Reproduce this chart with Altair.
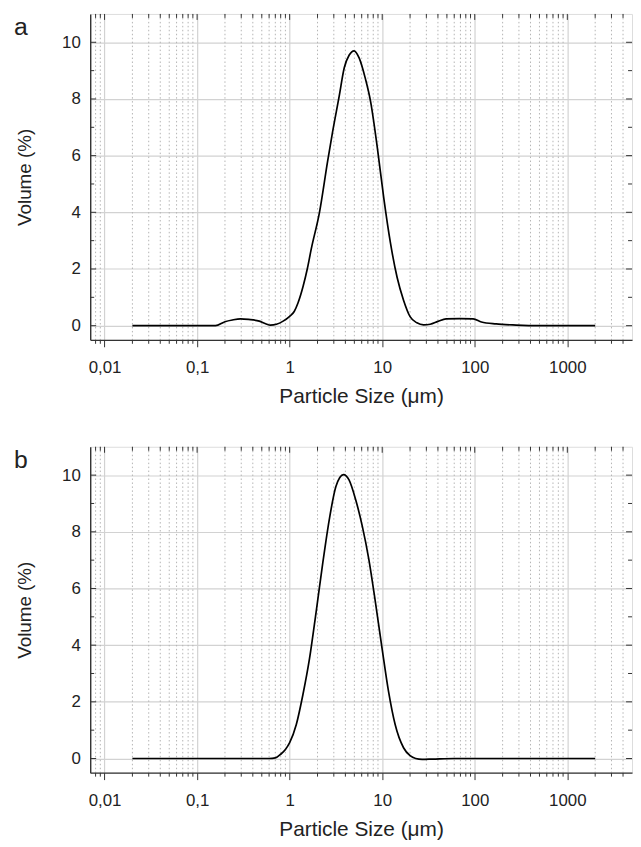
import altair as alt
import pandas as pd

# ---------------- data ----------------
size_a = [0.02, 0.05, 0.1, 0.158, 0.2, 0.24, 0.295, 0.36, 0.47, 0.55, 0.62, 0.72, 0.85,
          1.0, 1.12, 1.23, 1.4, 1.55, 1.71, 2.1, 2.57, 2.91, 3.43, 3.89, 4.4, 4.97, 5.63,
          6.6, 7.5, 8.84, 10.4, 12.3, 14.5, 17.0, 20.0, 23.7, 28.0, 33.0, 40.0, 49.0,
          69.0, 96.0, 118.0, 170.0, 280.0, 500.0, 1000.0, 2000.0]
vol_a = [0.0, 0.0, 0.0, 0.0, 0.14, 0.2, 0.24, 0.22, 0.16, 0.07, 0.02, 0.05, 0.16,
         0.33, 0.5, 0.8, 1.4, 2.0, 2.7, 4.0, 5.8, 6.84, 8.1, 9.1, 9.55, 9.7, 9.45,
         8.7, 7.9, 6.3, 4.5, 2.9, 1.7, 0.9, 0.32, 0.1, 0.03, 0.05, 0.15, 0.24,
         0.25, 0.24, 0.13, 0.06, 0.02, 0.0, 0.0, 0.0]

size_b = [0.02, 0.05, 0.1, 0.3, 0.6, 0.7, 0.8, 0.9, 1.0, 1.18, 1.39, 1.64, 1.93, 2.28,
          2.68, 3.16, 3.82, 4.38, 5.17, 6.09, 7.17, 8.45, 9.97, 11.7, 13.8, 17.0, 20.0,
          23.0, 27.0, 35.0, 60.0, 200.0, 1000.0, 2000.0]
vol_b = [0.0, 0.0, 0.0, 0.0, 0.0, 0.02, 0.15, 0.32, 0.56, 1.2, 2.25, 3.53, 5.16, 6.9,
         8.43, 9.6, 10.02, 9.83, 9.13, 8.2, 7.03, 5.51, 3.88, 2.37, 1.2, 0.38, 0.1,
         0.0, -0.03, -0.02, 0.0, 0.0, 0.0, 0.0]

panel_labels = ["a", "b"]
x_title = "Particle Size (\u03bcm)"
y_title = "Volume (%)"

x_major = [0.01, 0.1, 1, 10, 100, 1000]
x_major_labels = ["0,01", "0,1", "1", "10", "100", "1000"]
x_minor = [0.008, 0.009,
           0.02, 0.03, 0.04, 0.05, 0.06, 0.07, 0.08, 0.09,
           0.2, 0.3, 0.4, 0.5, 0.6, 0.7, 0.8, 0.9,
           2, 3, 4, 5, 6, 7, 8, 9,
           20, 30, 40, 50, 60, 70, 80, 90,
           200, 300, 400, 500, 600, 700, 800, 900,
           2000, 3000, 4000]
y_major = [0, 2, 4, 6, 8, 10]
y_minor = [1, 3, 5, 7, 9]

# ---------------- styling ----------------
W, H = 547, 329
FONT = "Liberation Sans"
TXT = "#222222"
AX = "#333333"
GRID = "#d2d2d2"
MINOR = "#b4b4b4"

label_expr = "{" + ", ".join(f"'{v}': '{l}'" for v, l in zip(x_major, x_major_labels)) + "}[toString(datum.value)]"

xs = alt.Scale(type="log", domain=[0.007, 5000], nice=False)
ys = alt.Scale(domain=[-0.5, 11], nice=False, zero=False)

X_AXIS = alt.Axis(
    values=x_major, labelExpr=label_expr, title=x_title,
    grid=True, gridColor=GRID, gridWidth=1.2,
    ticks=True, tickSize=7, tickColor=AX, tickWidth=1,
    domain=True, domainColor=AX, domainWidth=1.4,
    labelFont=FONT, labelFontSize=17, labelColor=TXT, labelPadding=13,
    titleFont=FONT, titleFontSize=21, titleFontWeight="normal", titleColor=TXT,
    titlePadding=10, labelFlush=False)
Y_AXIS = alt.Axis(
    values=y_major, title=y_title,
    grid=True, gridColor=GRID, gridWidth=1.2,
    ticks=False, domain=True, domainColor=AX, domainWidth=1.4,
    labelFont=FONT, labelFontSize=17, labelColor=TXT, labelPadding=10,
    titleFont=FONT, titleFontSize=19, titleFontWeight="normal", titleColor=TXT,
    titlePadding=27)


def xenc(field):
    return alt.X(field, type="quantitative", scale=xs, axis=X_AXIS, title=x_title)


def yenc(field):
    return alt.Y(field, type="quantitative", scale=ys, axis=Y_AXIS, title=y_title)


def panel(sizes, vols, label):
    df = pd.DataFrame({"size": sizes, "vol": vols})
    xmin_df = pd.DataFrame({"size": x_minor})
    xmaj_df = pd.DataFrame({"size": x_major})
    ymin_df = pd.DataFrame({"vol": y_minor})
    ymaj_df = pd.DataFrame({"vol": y_major})

    line = alt.Chart(df).mark_line(
        color="black", strokeWidth=1.7, interpolate="monotone"
    ).encode(x=xenc("size"), y=yenc("vol"))

    minor_grid = alt.Chart(xmin_df).mark_rule(
        color=MINOR, strokeDash=[1.5, 2.5], strokeWidth=1
    ).encode(x=xenc("size"), y=alt.value(0), y2=alt.value(H))

    top_major = alt.Chart(xmaj_df).mark_rule(color=AX, strokeWidth=1).encode(
        x=xenc("size"), y=alt.value(0), y2=alt.value(6))
    top_minor = alt.Chart(xmin_df).mark_rule(color=AX, strokeWidth=1).encode(
        x=xenc("size"), y=alt.value(0), y2=alt.value(4))
    bot_minor = alt.Chart(xmin_df).mark_rule(color=AX, strokeWidth=1).encode(
        x=xenc("size"), y=alt.value(H), y2=alt.value(H + 4))

    left_major = alt.Chart(ymaj_df).mark_rule(color=AX, strokeWidth=1).encode(
        y=yenc("vol"), x=alt.value(0), x2=alt.value(6))
    left_minor = alt.Chart(ymin_df).mark_rule(color=AX, strokeWidth=1).encode(
        y=yenc("vol"), x=alt.value(0), x2=alt.value(4))
    right_major = alt.Chart(ymaj_df).mark_rule(color=AX, strokeWidth=1).encode(
        y=yenc("vol"), x=alt.value(W - 6), x2=alt.value(W))
    right_minor = alt.Chart(ymin_df).mark_rule(color=AX, strokeWidth=1).encode(
        y=yenc("vol"), x=alt.value(W - 4), x2=alt.value(W))

    lab = alt.Chart(pd.DataFrame({"t": [label]})).mark_text(
        font=FONT, fontSize=25, color=TXT, align="left", baseline="alphabetic"
    ).encode(text="t:N", x=alt.value(-77), y=alt.value(21))

    return alt.layer(
        minor_grid, top_major, top_minor, bot_minor,
        left_major, left_minor, right_major, right_minor, line, lab
    ).properties(width=W, height=H)


chart = alt.vconcat(
    panel(size_a, vol_a, panel_labels[0]),
    panel(size_b, vol_b, panel_labels[1]),
    spacing=39,
).properties(
    padding={"left": 5, "top": 1, "right": 0, "bottom": 0}
).configure_view(
    stroke=AX, strokeWidth=1.2
).configure(background="white")

chart.save("out.html", embed_options={"renderer": "svg", "actions": False})
